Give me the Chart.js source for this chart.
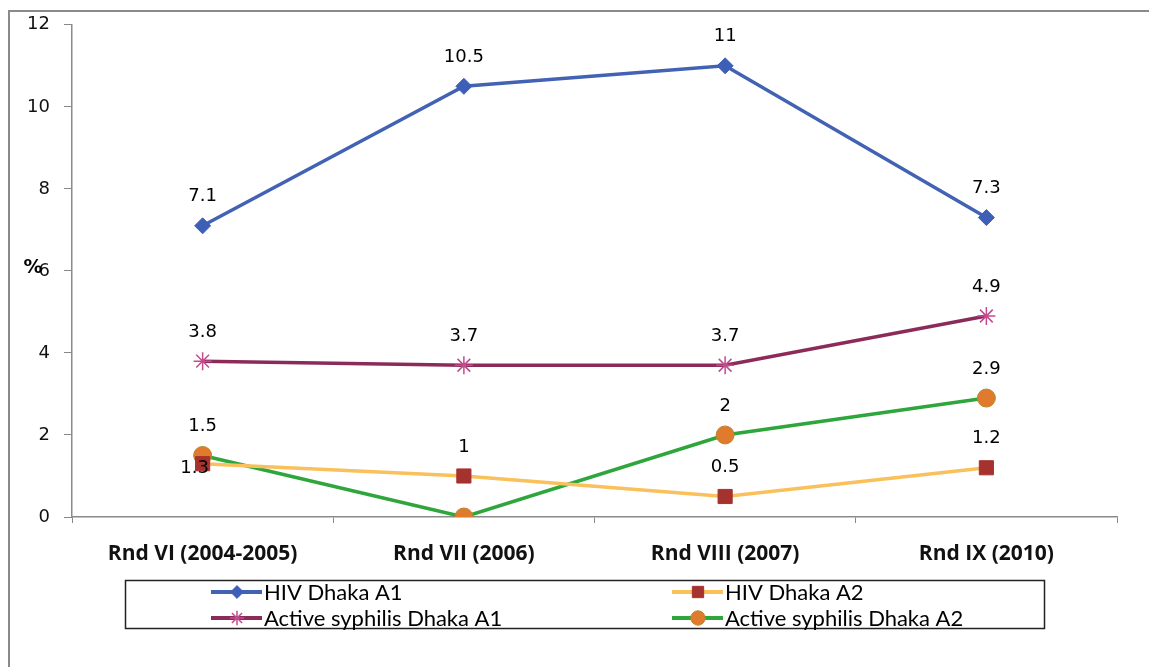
<!DOCTYPE html>
<html>
<head>
<meta charset="utf-8">
<script src="https://cdn.jsdelivr.net/npm/chart.js@4"></script>
<style>
  html, body { margin: 0; padding: 0; background: #fff; }
  #wrap { position: relative; width: 1149px; height: 667px; }
</style>
</head>
<body>
<div id="wrap"><canvas id="chart" width="1149" height="667"></canvas></div>
<script>
// ── data ──────────────────────────────────────────────────────────────────────
const rounds = ['Rnd VI (2004-2005)', 'Rnd VII (2006)', 'Rnd VIII (2007)', 'Rnd IX (2010)'];
const hivA1 = [7.1, 10.5, 11, 7.3];
const hivA2 = [1.3, 1, 0.5, 1.2];
const syphA1 = [3.8, 3.7, 3.7, 4.9];
const syphA2 = [1.5, 0, 2, 2.9];
const yTicks = [0, 2, 4, 6, 8, 10, 12];

// label placement tweaks (Excel had the 1.3 label nudged down onto the marker)
const labelShift = { 1: [[-8, 34], [0, 0], [0, 0], [0, 0]] };

const tickFont = { family: 'DejaVu Sans', size: 18 };
const legendFont = '22px Lato, "Open Sans", sans-serif';

const dataLabels = {
    id: 'dataLabels',
    afterDatasetsDraw(chart) {
        const ctx = chart.ctx;
        ctx.save();
        ctx.font = '18px "DejaVu Sans"';
        ctx.fillStyle = '#000';
        ctx.textAlign = 'center';
        ctx.textBaseline = 'middle';
        chart.data.datasets.forEach((ds, di) => {
            const meta = chart.getDatasetMeta(di);
            meta.data.forEach((pt, i) => {
                if (ds.data[i] === 0) return; // Excel hid the 0 label
                const shift = labelShift[di] ? labelShift[di][i] : [0, 0];
                ctx.fillText(String(ds.data[i]), pt.x + shift[0], pt.y - 29 + shift[1]);
            });
        });
        ctx.restore();
    }
};

// two-column boxed legend + frame + "%" title
const extras = {
    id: 'extras',
    afterDraw(chart) {
        const ctx = chart.ctx;
        ctx.save();
        // outer frame (top + left visible)
        ctx.strokeStyle = '#8a8a8a';
        ctx.lineWidth = 2;
        ctx.beginPath();
        ctx.moveTo(9, 667);
        ctx.lineTo(9, 11);
        ctx.lineTo(1149, 11);
        ctx.stroke();

        // y title
        ctx.fillStyle = '#000';
        ctx.font = 'bold 19px "DejaVu Sans"';
        ctx.textAlign = 'center';
        ctx.textBaseline = 'middle';
        ctx.fillText('%', 33, 268);

        // legend box
        ctx.strokeStyle = '#222';
        ctx.lineWidth = 1.5;
        ctx.strokeRect(125.5, 580.5, 919, 48);
        const cols = [211, 672];
        const rows = [592, 618];
        chart.data.datasets.forEach((ds, k) => {
            const x0 = cols[k % 2];
            const y = rows[Math.floor(k / 2)];
            ctx.strokeStyle = ds.borderColor;
            ctx.lineWidth = 4;
            ctx.beginPath();
            ctx.moveTo(x0, y);
            ctx.lineTo(x0 + 51, y);
            ctx.stroke();
            ctx.fillStyle = ds.pointBackgroundColor;
            ctx.strokeStyle = ds.pointBorderColor;
            ctx.lineWidth = ds.pointBorderWidth;
            Chart.helpers.drawPoint(ctx, {
                pointStyle: ds.pointStyle,
                radius: ds.pointRadius * 0.8,
                borderWidth: ds.pointBorderWidth
            }, x0 + 26, y);
            ctx.fillStyle = '#000';
            ctx.font = legendFont;
            ctx.textAlign = 'left';
            ctx.fillText(ds.label, x0 + 53, y + 1);
        });
        ctx.restore();
    }
};

function series(label, data, color, style, markerFill, markerBorder, radius) {
    return {
        label,
        data,
        borderColor: color,
        backgroundColor: markerFill,
        borderWidth: 3.5,
        pointStyle: style,
        pointRadius: radius,
        pointHoverRadius: radius,
        pointBackgroundColor: markerFill,
        pointBorderColor: markerBorder,
        pointBorderWidth: style === 'star' ? 1.5 : 1,
        tension: 0
    };
}

new Chart(document.getElementById('chart').getContext('2d'), {
    type: 'line',
    data: {
        labels: rounds,
        datasets: [
            series('HIV Dhaka A1', hivA1, '#4262B4', 'rectRot', '#3E5FB8', '#3E5FB8', 8),
            series('HIV Dhaka A2', hivA2, '#F9C05C', 'rect', '#A5322F', '#A5322F', 10),
            series('Active syphilis Dhaka A1', syphA1, '#8C2B5A', 'star', '#C24C8C', '#C24C8C', 9),
            series('Active syphilis Dhaka A2', syphA2, '#2EA63C', 'circle', '#E07A2C', '#B9872F', 9)
        ]
    },
    options: {
        animation: false,
        responsive: false,
        layout: { padding: { left: 0, top: 23, right: 32, bottom: 0 } },
        plugins: { legend: { display: false }, tooltip: { enabled: false } },
        scales: {
            x: {
                offset: true,
                grid: { offset: true, drawOnChartArea: false, drawTicks: true, tickLength: 6, color: '#888' },
                border: { color: '#8a8a8a', width: 1.5 },
                ticks: { color: '#111', padding: 18, maxRotation: 0,
                         font: { family: '"Open Sans"', size: 21, weight: 'bold' } },
                afterFit: s => { s.height = 150; }
            },
            y: {
                min: 0,
                max: 12,
                afterBuildTicks: s => { s.ticks = yTicks.map(v => ({ value: v })); },
                grid: { drawOnChartArea: false, drawTicks: true, tickLength: 8, color: '#888' },
                border: { color: '#8a8a8a', width: 1.5 },
                ticks: { color: '#111', padding: 14, font: tickFont },
                afterFit: s => { s.width = 72; }
            }
        }
    },
    plugins: [dataLabels, extras]
});
</script>
</body>
</html>
